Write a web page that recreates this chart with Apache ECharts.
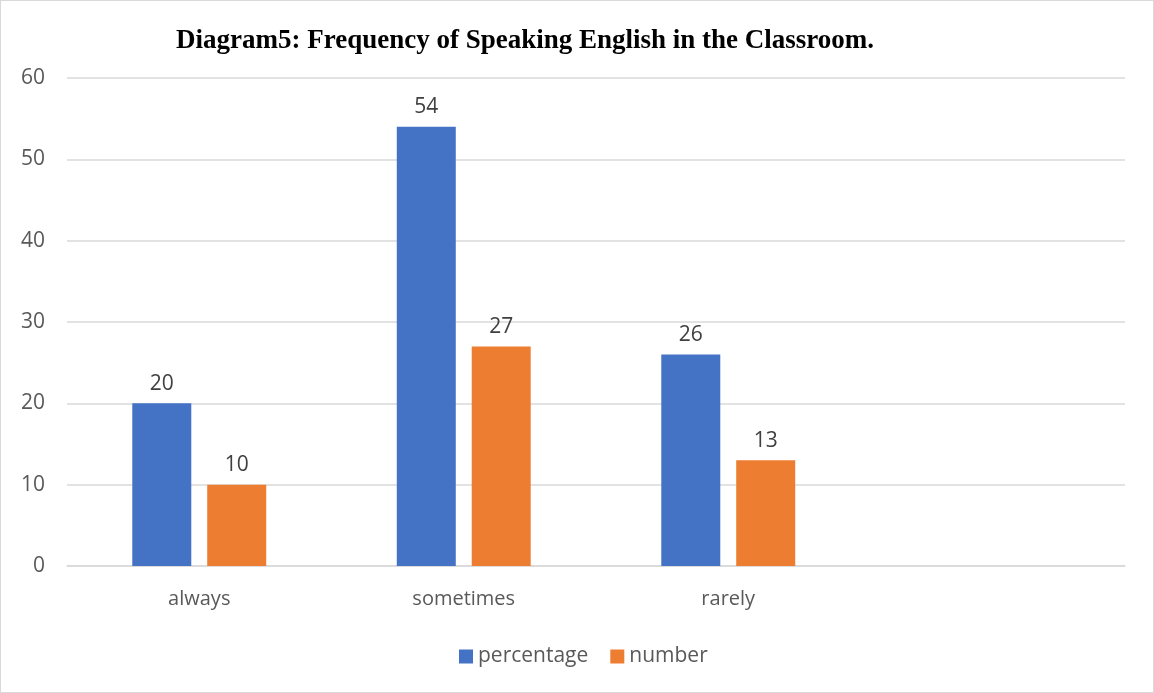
<!DOCTYPE html>
<html>
<head>
<meta charset="utf-8">
<script src="https://cdn.jsdelivr.net/npm/echarts@6/dist/echarts.min.js"></script>
<style>
  html, body { margin: 0; padding: 0; background: #fff; }
  #chart { width: 1154px; height: 693px; box-sizing: border-box; border: 1px solid #d9d9d9; }
</style>
</head>
<body>
<div id="chart"></div>
<script>
// Survey responses: how often students speak English in class
const categories = ['always', 'sometimes', 'rarely', ''];
const percentage = [20, 54, 26, null];
const number = [10, 27, 13, null];
const yTicks = { min: 0, max: 60, interval: 10 };

const chart = echarts.init(document.getElementById('chart'), null, { renderer: 'canvas' });

const labelStyle = {
  show: true,
  position: 'top',
  distance: 9,
  color: '#404040',
  fontSize: 21,
  fontFamily: '"Open Sans", "Noto Sans", sans-serif'
};

chart.setOption({
  animation: false,
  title: {
    text: 'Diagram5: Frequency of Speaking English in the Classroom.',
    left: 170,
    top: 22,
    textStyle: {
      fontFamily: '"Liberation Serif", "DejaVu Serif", serif',
      fontWeight: 'bold',
      fontSize: 27,
      color: '#000'
    }
  },
  legend: {
    bottom: 20,
    left: 453,
    itemWidth: 14,
    itemHeight: 14,
    itemGap: 22,
    icon: 'rect',
    textStyle: {
      color: '#595959',
      fontSize: 21,
      fontFamily: '"Open Sans", "Noto Sans", sans-serif'
    },
    data: ['percentage', 'number']
  },
  grid: {
    left: 66,
    right: 28,
    top: 77,
    bottom: 126,
    containLabel: false
  },
  xAxis: {
    type: 'category',
    data: categories,
    axisLine: { show: true, lineStyle: { color: '#d9d9d9', width: 1.5 } },
    axisTick: { show: false },
    axisLabel: {
      color: '#595959',
      fontSize: 20,
      margin: 23,
      fontFamily: '"Open Sans", "Noto Sans", sans-serif'
    }
  },
  yAxis: {
    type: 'value',
    min: yTicks.min,
    max: yTicks.max,
    interval: yTicks.interval,
    axisLine: { show: false },
    axisTick: { show: false },
    splitLine: { lineStyle: { color: '#d9d9d9', width: 1.5 } },
    axisLabel: {
      color: '#595959',
      fontSize: 21,
      margin: 22,
      fontFamily: '"Open Sans", "Noto Sans", sans-serif'
    }
  },
  series: [
    {
      name: 'percentage',
      type: 'bar',
      data: percentage,
      barWidth: 59,
      barGap: '27%',
      itemStyle: { color: '#4472c4' },
      label: labelStyle
    },
    {
      name: 'number',
      type: 'bar',
      data: number,
      barWidth: 59,
      itemStyle: { color: '#ed7d31' },
      label: labelStyle
    }
  ]
});
</script>
</body>
</html>
